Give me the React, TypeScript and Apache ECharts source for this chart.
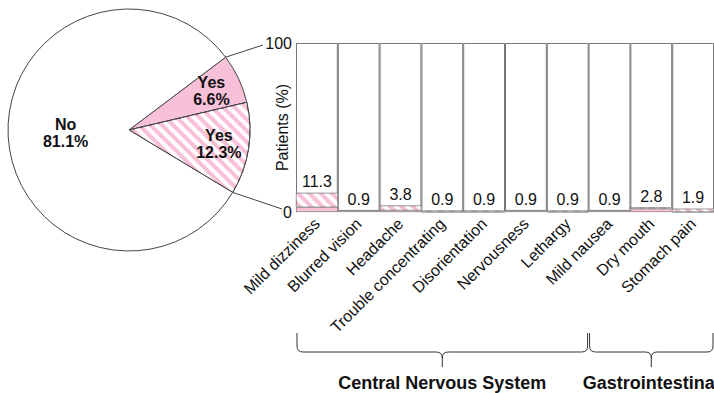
import React, { useEffect, useRef } from "react";
import * as echarts from "echarts";

// Pie: share of patients with / without adverse events
const pieNames = ["Yes", "Yes", "No"];
const pieValues = [6.6, 12.3, 81.1];
const pieHatched = [false, true, false];

// Bars: adverse events per symptom (% of patients)
const categories = [
  "Mild dizziness",
  "Blurred vision",
  "Headache",
  "Trouble concentrating",
  "Disorientation",
  "Nervousness",
  "Lethargy",
  "Mild nausea",
  "Dry mouth",
  "Stomach pain",
];
const totalValues = [11.3, 0.9, 3.8, 0.9, 0.9, 0.9, 0.9, 0.9, 2.8, 1.9];
const solidValues = [2.8, 0.9, 0.9, 0, 0, 0.9, 0, 0.9, 1.9, 0];
const hatchedValues = [8.5, 0, 2.9, 0.9, 0.9, 0, 0.9, 0, 0.9, 1.9];

const yTicks = [0, 100];

const groupNames = ["Central Nervous System", "Gastrointestinal"];
const groupFirst = [0, 7];
const groupLast = [6, 9];

const PINK = "#f8c1d9";
const FONT = "Liberation Sans, Arial, Helvetica, sans-serif";
const TEXT = "#111";

const stripes = {
  symbol: "rect",
  symbolSize: 1,
  color: "rgba(255,255,255,0.95)",
  dashArrayX: [1, 0],
  dashArrayY: [4, 4],
  rotation: Math.PI / 4,
};

// Curly brace under a group of categories
const Brace = echarts.graphic.extendShape({
  shape: { x1: 0, x2: 0, xm: 0, yTop: 0, yMid: 0, yTip: 0 },
  buildPath(ctx: any, s: any) {
    const r = 6;
    ctx.moveTo(s.x1, s.yTop);
    ctx.lineTo(s.x1, s.yMid - r);
    ctx.quadraticCurveTo(s.x1, s.yMid, s.x1 + r, s.yMid);
    ctx.lineTo(s.xm - r, s.yMid);
    ctx.quadraticCurveTo(s.xm, s.yMid, s.xm, s.yMid + r);
    ctx.lineTo(s.xm, s.yTip);
    ctx.moveTo(s.xm, s.yMid + r);
    ctx.quadraticCurveTo(s.xm, s.yMid, s.xm + r, s.yMid);
    ctx.lineTo(s.x2 - r, s.yMid);
    ctx.quadraticCurveTo(s.x2, s.yMid, s.x2, s.yMid - r);
    ctx.lineTo(s.x2, s.yTop);
  },
});
echarts.graphic.registerShape("brace", Brace);

export default function App() {
  const ref = useRef<HTMLDivElement>(null);

  useEffect(() => {
    if (!ref.current) return;
    const chart = echarts.init(ref.current, undefined, { renderer: "svg" });

    const pieCenter = [129, 130];
    const pieR = 121;
    const startAngle = 37;

    const pieData = pieValues.map((v, i) => ({
      name: pieNames[i],
      value: v,
      itemStyle: {
        color: pieNames[i] === "Yes" ? PINK : "#fff",
        decal: pieHatched[i] ? stripes : undefined,
      },
    }));

    const pieLabel = {
      position: "inner",
      formatter: (p: any) => `${p.name}\n${p.value}%`,
      fontSize: 16,
      fontWeight: "bold",
      lineHeight: 17,
      color: TEXT,
      fontFamily: FONT,
    };

    const option: any = {
      animation: false,
      textStyle: { fontFamily: FONT },
      grid: { left: 296, top: 43, width: 423, bottom: 181, containLabel: false },
      xAxis: {
        type: "category",
        data: categories,
        axisLine: { show: false },
        axisTick: { show: false },
        axisLabel: {
          interval: 0,
          rotate: 45,
          fontSize: 16,
          color: TEXT,
          fontFamily: FONT,
          margin: 9,
        },
      },
      yAxis: {
        type: "value",
        min: 0,
        max: 100,
        interval: 100,
        name: "Patients (%)",
        nameLocation: "middle",
        nameGap: 6,
        nameMoveOverlap: false,
        nameTextStyle: { fontSize: 16, color: TEXT, fontFamily: FONT },
        axisLine: { show: true, lineStyle: { color: "#999", width: 1 } },
        axisTick: { show: false },
        splitLine: { show: false },
        axisLabel: {
          fontSize: 16,
          color: TEXT,
          fontFamily: FONT,
          margin: 4,
          customValues: yTicks,
        },
      },
      series: [
        {
          type: "pie",
          center: pieCenter,
          radius: [0, pieR],
          startAngle,
          clockwise: true,
          silent: true,
          data: pieData.map((d, i) => ({ ...d, label: { show: pieNames[i] === "No" } })),
          itemStyle: { borderColor: "#444", borderWidth: 1 },
          label: pieLabel,
          labelLine: { show: false },
          emphasis: { disabled: true },
        },
        {
          // label ring for the "Yes" slices
          type: "pie",
          center: pieCenter,
          radius: [55, pieR],
          startAngle,
          clockwise: true,
          silent: true,
          z: 3,
          data: pieValues.map((v, i) => ({
            name: pieNames[i],
            value: v,
            label: { show: pieNames[i] === "Yes" },
          })),
          itemStyle: { color: "transparent", borderWidth: 0 },
          label: pieLabel,
          labelLine: { show: false },
          emphasis: { disabled: true },
        },
        {
          type: "bar",
          data: categories.map(() => 100),
          barWidth: "100%",
          barGap: "-100%",
          silent: true,
          itemStyle: { color: "#fff", borderColor: "#777", borderWidth: 1 },
        },
        {
          type: "bar",
          stack: "ae",
          data: solidValues,
          barWidth: "100%",
          barGap: "-100%",
          silent: true,
          itemStyle: { color: PINK, borderColor: "#888", borderWidth: 0.6 },
        },
        {
          type: "bar",
          stack: "ae",
          data: hatchedValues,
          barWidth: "100%",
          barGap: "-100%",
          silent: true,
          itemStyle: { color: PINK, borderColor: "#888", borderWidth: 0.6, decal: stripes },
        },
        {
          type: "bar",
          data: totalValues,
          barWidth: "100%",
          barGap: "-100%",
          silent: true,
          itemStyle: { color: "transparent" },
          label: {
            show: true,
            position: "top",
            distance: 3,
            fontSize: 16,
            color: TEXT,
            fontFamily: FONT,
            formatter: (p: any) => Number(p.value).toFixed(1),
          },
        },
      ],
    };

    chart.setOption(option);

    // zoom lines from the "Yes" wedges to the bar axis
    const toRad = (a: number) => (a * Math.PI) / 180;
    const yesShare = pieValues.filter((_, i) => pieNames[i] === "Yes").reduce((a, b) => a + b, 0);
    const a1 = startAngle;
    const a2 = startAngle - (360 * yesShare) / 100;
    const p1 = [pieCenter[0] + pieR * Math.cos(toRad(a1)), pieCenter[1] - pieR * Math.sin(toRad(a1))];
    const p2 = [pieCenter[0] + pieR * Math.cos(toRad(a2)), pieCenter[1] - pieR * Math.sin(toRad(a2))];
    const x0 = chart.convertToPixel({ xAxisIndex: 0 }, 0) as number;
    const bw = (chart.convertToPixel({ xAxisIndex: 0 }, 1) as number) - x0;
    const leftEdge = x0 - bw / 2;
    const yTop = chart.convertToPixel({ yAxisIndex: 0 }, 100) as number;
    const yBot = chart.convertToPixel({ yAxisIndex: 0 }, 0) as number;

    const graphics: any[] = [
      {
        type: "line",
        silent: true,
        z: 10,
        shape: { x1: p1[0], y1: p1[1], x2: leftEdge - 33, y2: yTop + 2 },
        style: { stroke: "#444", lineWidth: 1 },
      },
      {
        type: "line",
        silent: true,
        z: 10,
        shape: { x1: p2[0], y1: p2[1], x2: leftEdge - 14, y2: yBot - 3 },
        style: { stroke: "#444", lineWidth: 1 },
      },
    ];

    groupNames.forEach((name, g) => {
      const xa = x0 + bw * (groupFirst[g] - 0.5);
      const xb = x0 + bw * (groupLast[g] + 0.5);
      const xm = (xa + xb) / 2;
      graphics.push({
        type: "brace",
        silent: true,
        shape: { x1: xa + 1, x2: xb - 1, xm, yTop: 333, yMid: 352, yTip: 367 },
        style: { fill: "none", stroke: "#333", lineWidth: 1 },
      });
      graphics.push({
        type: "text",
        silent: true,
        x: xm,
        y: 383,
        style: {
          text: name,
          fill: TEXT,
          font: `bold 18px ${FONT}`,
          align: "center",
          verticalAlign: "middle",
        },
      });
    });

    chart.setOption({ graphic: graphics });

    return () => chart.dispose();
  }, []);

  return (
    <div
      ref={ref}
      style={{ position: "fixed", left: 0, top: 0, width: 714, height: 393, background: "#fff" }}
    />
  );
}
